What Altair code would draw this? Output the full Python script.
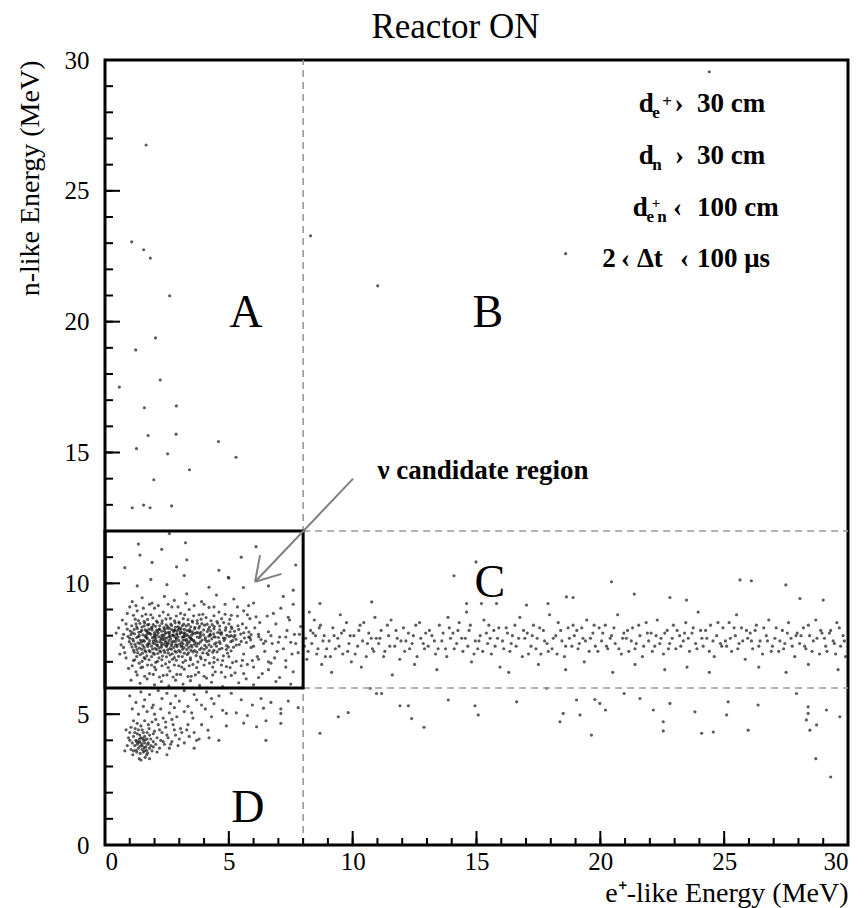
import altair as alt
import pandas as pd

# ---------------- data ----------------
# isolated events (regions A, B, C)
scatter_pts = [(1.66,26.75),(1.08,23.05),(1.56,22.75),(1.83,22.43),(2.61,20.99),(2.04,19.38),(1.24,18.92),
    (2.23,17.77),(0.58,17.5),(1.59,16.71),(2.88,16.78),(1.74,15.65),(2.87,15.7),(4.58,15.42),(1.27,15.15),
    (2.53,14.95),(5.29,14.82),(3.41,14.34),(1.97,13.96),(1.10,12.89),(1.56,12.99),(1.82,12.89),(2.69,12.96),
    (8.30,23.28),(11.01,21.37),(18.6,22.6),(24.4,29.55),(14.98,10.82),(14.09,10.29),
    (20.45,10.06),(25.64,10.13),(26.1,10.1),(27.49,9.94),(21.37,9.59),(22.81,9.46),(23.48,9.36),(28.06,9.42),
    (29.0,9.36),(18.9,9.46),(10.77,9.29),(14.6,9.23),(15.2,9.23),(15.81,9.23),(17.02,9.17),(17.89,9.23),
    (18.63,9.48),(8.68,9.23)]

# events below the 6 MeV cut for e+ energy > 8 MeV
low_band_pts = [(11.91,5.32),(12.25,5.32),(13.86,5.54),(14.94,5.32),(15.07,4.97),(9.42,4.90),(9.82,5.06),
    (12.88,4.50),(8.68,4.27),(10.96,5.79),(11.17,5.79),(12.38,4.83),(16.62,5.47),(18.37,4.71),(18.5,5.03),
    (17.83,5.99),(10.7,5.99),(19.04,5.54),(19.78,5.56),(19.98,5.41),(19.18,4.97),(20.21,5.16),(20.96,5.79),
    (21.6,5.6),(22.14,5.16),(22.54,4.71),(22.81,5.41),(23.82,5.09),(24.09,4.27),(24.56,4.32),(25.1,4.97),
    (25.16,5.47),(25.97,4.39),(26.37,5.35),(27.92,5.79),(28.39,5.28),(28.39,5.03),(28.32,4.78),(28.46,4.39),
    (28.73,4.59),(29.13,5.16),(29.67,4.90),(19.64,4.20),(22.54,4.36),(29.3,2.6),(28.7,3.3)]

# horizontal band of neutron-like events (n ~ 8 MeV), e+ energy 8-30 MeV
band_pts = [(8.1,7.9),(8.2,7.4),(8.3,8.2),(8.35,7.7),(8.5,8.0),(8.6,7.5),(8.7,8.4),(8.8,7.8),(8.9,7.2),(8.45,8.6),(8.15,7.1),(8.75,6.9),(8.25,8.9),
    (9.05,7.8),(9.2,8.3),(9.3,7.5),(9.4,7.9),(9.55,8.1),(9.6,7.3),(9.75,8.5),(9.85,7.7),(9.95,7.0),(9.15,6.6),(9.5,8.8),
    (10.05,8.0),(10.2,7.6),(10.3,8.4),(10.4,7.8),(10.55,7.2),(10.65,8.1),(10.8,7.5),(10.9,8.7),(10.95,7.9),(10.35,6.8),
    (11.05,7.7),(11.15,8.2),(11.3,7.4),(11.45,8.0),(11.55,8.6),(11.7,7.6),(11.8,7.9),(11.9,7.1),(11.6,6.5),
    (12.05,8.3),(12.15,7.8),(12.3,7.5),(12.45,8.0),(12.6,7.2),(12.7,8.5),(12.85,7.7),(12.95,8.1),(12.5,6.9),
    (13.05,7.6),(13.2,8.0),(13.35,7.3),(13.5,8.4),(13.6,7.8),(13.75,7.5),(13.85,8.7),(13.95,7.9),(13.4,6.7),
    (14.05,8.1),(14.2,7.7),(14.3,8.5),(14.45,7.4),(14.55,7.9),(14.7,8.2),(14.8,7.0),(14.95,7.8),(14.6,8.9),
    (15.05,7.5),(15.15,8.0),(15.3,8.6),(15.45,7.7),(15.6,7.3),(15.7,8.2),(15.85,7.9),(15.95,6.8),(15.5,8.4),
    (16.05,7.8),(16.2,8.3),(16.35,7.4),(16.45,8.0),(16.6,7.6),(16.75,8.7),(16.85,7.2),(16.95,7.9),(16.3,6.6),
    (17.05,8.1),(17.2,7.6),(17.3,8.4),(17.45,7.9),(17.6,7.3),(17.7,8.2),(17.85,7.7),(17.95,8.8),(17.5,6.9),
    (18.05,7.5),(18.2,8.0),(18.3,8.5),(18.45,7.8),(18.55,7.2),(18.7,8.3),(18.85,7.6),(18.95,8.0),(18.6,6.7),
    (19.05,8.2),(19.15,7.7),(19.3,7.9),(19.45,8.6),(19.55,7.4),(19.7,8.1),(19.8,7.6),(19.95,8.3),(19.35,7.0),
    (20.05,7.8),(20.2,8.4),(20.3,7.5),(20.45,8.0),(20.6,7.7),(20.7,8.8),(20.85,7.3),(20.95,8.1),(20.5,6.6),
    (21.05,7.9),(21.15,7.4),(21.3,8.3),(21.45,7.7),(21.6,8.0),(21.7,7.2),(21.85,8.5),(21.95,7.8),(21.4,6.9),
    (22.05,8.1),(22.2,7.6),(22.3,8.6),(22.45,7.9),(22.55,7.3),(22.7,8.2),(22.8,7.7),(22.95,8.4),(22.6,6.7),
    (23.05,7.5),(23.2,8.0),(23.35,7.8),(23.45,8.5),(23.6,7.4),(23.7,8.1),(23.85,7.7),(23.95,8.9),(23.5,6.8),
    (24.05,8.2),(24.15,7.6),(24.3,7.9),(24.45,8.4),(24.6,7.2),(24.7,8.0),(24.85,7.7),(24.95,8.3),(24.4,6.6),
    (25.05,7.8),(25.2,8.5),(25.3,7.4),(25.45,8.0),(25.6,7.7),(25.7,8.3),(25.85,7.1),(25.95,7.9),(25.5,8.8),
    (26.05,8.1),(26.15,7.5),(26.3,8.4),(26.45,7.8),(26.55,7.3),(26.7,8.0),(26.8,8.6),(26.95,7.6),(26.4,6.8),
    (27.05,7.9),(27.2,7.4),(27.35,8.2),(27.45,7.7),(27.6,8.5),(27.7,7.9),(27.85,7.2),(27.95,8.1),(27.5,6.6),
    (28.05,7.7),(28.2,8.3),(28.3,7.5),(28.45,8.0),(28.6,7.8),(28.7,8.6),(28.85,7.3),(28.95,8.1),(28.4,6.9),
    (29.05,7.9),(29.15,7.4),(29.3,8.2),(29.45,7.7),(29.55,8.5),(29.7,7.6),(29.8,8.0),(29.9,7.2),(29.6,6.7),
    (8.05,7.6),(8.4,8.1),(8.55,7.3),(8.65,8.3),(8.85,8.0),(8.95,7.5),
    (9.1,7.2),(9.25,8.0),(9.45,7.6),(9.65,8.2),(9.8,7.4),(9.9,8.0),
    (10.1,7.3),(10.25,8.2),(10.45,8.5),(10.6,7.7),(10.75,7.9),(10.85,7.4),
    (11.1,7.9),(11.25,7.2),(11.4,8.4),(11.5,7.6),(11.75,8.2),(11.95,7.8),
    (12.1,7.4),(12.25,8.1),(12.4,7.7),(12.55,8.4),(12.75,7.9),(12.9,7.5),
    (13.1,8.2),(13.3,7.8),(13.45,7.5),(13.65,8.1),(13.8,7.2),(13.9,8.3),
    (14.1,7.5),(14.25,8.2),(14.4,7.9),(14.65,7.6),(14.75,8.4),(14.9,7.3),
    (15.1,7.8),(15.25,7.4),(15.4,8.1),(15.55,7.9),(15.75,7.6),(15.9,8.3),
    (16.1,7.5),(16.25,8.1),(16.4,7.7),(16.55,8.4),(16.7,7.9),(16.9,8.2),
    (17.1,7.3),(17.25,8.0),(17.4,7.5),(17.55,8.3),(17.75,7.8),(17.9,7.4),
    (18.1,7.9),(18.25,7.3),(18.4,8.2),(18.6,7.6),(18.75,7.9),(18.9,8.4),
    (19.1,7.5),(19.25,8.3),(19.4,7.8),(19.6,7.9),(19.75,8.4),(19.9,7.4),
    (20.1,8.1),(20.25,7.6),(20.4,7.9),(20.55,8.3),(20.75,7.5),(20.9,7.9),
    (21.1,8.2),(21.25,7.8),(21.4,7.5),(21.55,8.4),(21.75,7.6),(21.9,8.1),
    (22.1,7.4),(22.25,8.0),(22.4,7.7),(22.6,8.1),(22.75,7.5),(22.9,7.9),
    (23.1,8.2),(23.25,7.6),(23.4,8.1),(23.55,7.9),(23.75,8.3),(23.9,7.5),
    (24.1,7.9),(24.25,8.2),(24.4,7.4),(24.55,7.8),(24.75,8.5),(24.9,7.6),
    (25.1,7.6),(25.25,7.9),(25.4,8.3),(25.55,7.5),(25.75,7.8),(25.9,8.2),
    (26.1,7.8),(26.25,8.2),(26.4,7.6),(26.6,8.3),(26.75,7.8),(26.9,7.4),
    (27.1,8.3),(27.25,7.8),(27.4,7.5),(27.55,8.1),(27.75,7.6),(27.9,8.0),
    (28.1,8.0),(28.25,7.6),(28.4,8.4),(28.55,7.4),(28.75,7.9),(28.9,8.2),
    (29.1,7.6),(29.25,8.1),(29.4,7.8),(29.5,7.3),(29.65,8.3),(29.85,7.8)]

# dense cluster inside the candidate box
core_pts = [(1.22,8.63),(1.58,8.55),(1.93,8.68),(2.31,8.57),(2.64,8.66),(2.98,8.52),(3.35,8.61),(3.72,8.58),(4.08,8.69),(4.52,8.54),(5.04,8.62),
    (1.41,8.47),(1.77,8.43),(2.12,8.51),(2.47,8.41),(2.83,8.49),(3.18,8.44),(3.54,8.52),(3.91,8.46),(4.33,8.42),(4.79,8.5),
    (1.08,8.38),(1.49,8.33),(1.72,8.41),(2.04,8.36),(2.38,8.31),(2.69,8.39),(2.94,8.34),(3.28,8.37),(3.63,8.32),(4.02,8.4),(4.41,8.35),(4.88,8.31),(5.37,8.38),
    (1.31,8.27),(1.62,8.22),(1.88,8.29),(2.19,8.24),(2.52,8.28),(2.81,8.21),(3.07,8.26),(3.42,8.23),(3.79,8.29),(4.18,8.25),(4.63,8.22),(5.12,8.27),
    (1.02,8.18),(1.37,8.13),(1.68,8.19),(2.01,8.12),(2.29,8.17),(2.61,8.14),(2.92,8.19),(3.21,8.11),(3.52,8.16),(3.87,8.13),(4.27,8.18),(4.71,8.12),(5.23,8.17),(5.81,8.14),
    (1.19,8.07),(1.53,8.03),(1.81,8.09),(2.08,8.02),(2.42,8.06),(2.73,8.01),(3.03,8.08),(3.31,8.04),(3.64,8.09),(3.98,8.03),(4.39,8.07),(4.92,8.02),(5.48,8.06),
    (0.93,7.97),(1.28,7.93),(1.63,7.99),(1.91,7.92),(2.18,7.96),(2.49,7.91),(2.79,7.98),(3.12,7.94),(3.38,7.97),(3.81,7.92),(4.19,7.98),(4.58,7.93),(5.02,7.97),(5.63,7.91),(6.21,7.96),
    (1.12,7.87),(1.43,7.83),(1.71,7.89),(2.03,7.82),(2.33,7.86),(2.58,7.81),(2.88,7.88),(3.23,7.84),(3.49,7.87),(3.92,7.83),(4.31,7.88),(4.81,7.82),(5.29,7.86),(5.88,7.84),
    (0.98,7.77),(1.33,7.73),(1.59,7.79),(1.94,7.72),(2.22,7.76),(2.51,7.71),(2.77,7.78),(3.09,7.74),(3.41,7.77),(3.69,7.72),(4.11,7.78),(4.49,7.73),(5.08,7.77),(5.71,7.74),(6.48,7.79),
    (1.21,7.67),(1.52,7.63),(1.79,7.69),(2.11,7.62),(2.39,7.66),(2.68,7.61),(3.01,7.68),(3.29,7.64),(3.61,7.67),(4.03,7.63),(4.42,7.68),(4.91,7.62),(5.42,7.66),
    (1.09,7.57),(1.39,7.53),(1.73,7.59),(2.02,7.52),(2.28,7.56),(2.62,7.51),(2.91,7.58),(3.19,7.54),(3.51,7.57),(3.89,7.53),(4.29,7.58),(4.72,7.52),(5.19,7.56),
    (1.29,7.47),(1.61,7.43),(1.92,7.49),(2.21,7.42),(2.53,7.46),(2.82,7.41),(3.13,7.48),(3.47,7.44),(3.83,7.47),(4.21,7.43),(4.62,7.48),(5.09,7.42),
    (1.18,7.37),(1.51,7.33),(1.82,7.39),(2.13,7.32),(2.41,7.36),(2.71,7.31),(3.04,7.38),(3.37,7.34),(3.71,7.37),(4.12,7.33),(4.53,7.38),
    (1.42,7.27),(1.69,7.23),(1.99,7.29),(2.32,7.22),(2.63,7.26),(2.97,7.21),(3.32,7.28),(3.68,7.24),(4.17,7.27),(4.78,7.23),
    (1.65,7.95),(1.85,8.05),(2.05,7.9),(2.15,8.1),(2.25,7.85),(2.35,8.0),(2.45,7.75),(2.55,8.12),(2.65,7.88),(2.75,8.03),(2.85,7.78),(2.95,7.95),(3.05,8.15),(3.15,7.83),(3.25,8.0),(3.35,7.7),(3.45,7.92),(3.55,8.08),
    (1.75,7.7),(1.95,7.8),(2.1,7.65),(2.3,7.72),(2.5,7.62),(2.7,7.68),(2.9,7.64),(3.1,7.6),(3.3,7.85),(3.6,7.78),
    (1.7,8.15),(1.9,8.22),(2.2,8.25),(2.4,8.18),(2.6,8.28),(2.8,8.2),(3.0,8.3),(3.2,8.24),(3.4,8.18),(3.7,8.12),
    (1.55,7.82),(2.0,7.98),(2.4,7.92),(2.62,7.97),(2.9,8.08),(3.18,7.97),(3.5,7.85),(3.85,7.98),(4.05,7.85),(4.25,8.05),(4.45,7.95),(4.65,8.1),(4.85,7.9),(5.1,8.0),
    (1.35,8.58),(1.72,8.62),(2.08,8.56),(2.46,8.64),(2.81,8.57),(3.16,8.65),(3.52,8.56),(3.88,8.63),(4.28,8.57),(4.71,8.65),
    (1.25,8.45),(1.6,8.48),(1.95,8.42),(2.3,8.47),(2.66,8.44),(3.0,8.48),(3.37,8.43),(3.73,8.47),(4.12,8.44),(4.55,8.48),(5.0,8.45),
    (1.28,8.34),(1.58,8.37),(1.9,8.33),(2.21,8.38),(2.53,8.35),(2.84,8.32),(3.12,8.38),(3.46,8.34),(3.82,8.36),(4.22,8.33),(4.63,8.37),(5.1,8.34),
    (1.18,8.24),(1.48,8.2),(1.78,8.25),(2.09,8.21),(2.4,8.26),(2.7,8.23),(2.99,8.25),(3.31,8.2),(3.62,8.26),(3.98,8.22),(4.4,8.26),(4.86,8.21),(5.4,8.24),
    (1.1,8.12),(1.45,8.15),(1.76,8.11),(2.12,8.16),(2.46,8.11),(2.77,8.16),(3.1,8.12),(3.43,8.15),(3.76,8.11),(4.13,8.16),(4.55,8.12),(5.05,8.15),(5.6,8.11),
    (1.05,8.04),(1.38,8.01),(1.7,8.05),(2.0,8.06),(2.3,8.02),(2.6,8.06),(2.9,8.03),(3.2,8.07),(3.5,8.02),(3.85,8.06),(4.25,8.02),(4.7,8.05),(5.25,8.01),(5.9,8.04),
    (1.0,7.9),(1.35,7.96),(1.68,7.93),(1.98,7.95),(2.28,7.92),(2.58,7.96),(2.86,7.91),(3.17,7.96),(3.45,7.9),(3.72,7.95),(4.05,7.92),(4.4,7.96),(4.78,7.91),(5.2,7.95),(5.85,7.93),
    (1.15,7.8),(1.48,7.76),(1.8,7.81),(2.1,7.77),(2.42,7.82),(2.7,7.76),(2.98,7.82),(3.3,7.78),(3.58,7.82),(3.85,7.76),(4.2,7.8),(4.62,7.77),(5.15,7.81),(5.5,7.78),
    (1.05,7.68),(1.4,7.7),(1.7,7.65),(2.0,7.69),(2.28,7.64),(2.56,7.7),(2.85,7.65),(3.15,7.69),(3.48,7.63),(3.78,7.69),(4.2,7.65),(4.65,7.7),(5.3,7.64),
    (1.25,7.58),(1.58,7.55),(1.88,7.6),(2.18,7.54),(2.48,7.59),(2.78,7.55),(3.08,7.6),(3.38,7.55),(3.7,7.6),(4.1,7.55),(4.5,7.6),(4.98,7.56),
    (1.15,7.45),(1.48,7.48),(1.78,7.43),(2.08,7.47),(2.38,7.44),(2.68,7.48),(2.98,7.43),(3.3,7.47),(3.62,7.43),(4.0,7.48),(4.4,7.44),(4.9,7.47),
    (1.32,7.35),(1.65,7.38),(1.95,7.33),(2.25,7.38),(2.55,7.34),(2.88,7.37),(3.2,7.33),(3.55,7.38),(3.95,7.34),(4.35,7.37),(4.95,7.33),
    (1.28,7.2),(1.58,7.16),(1.88,7.2),(2.18,7.15),(2.48,7.19),(2.8,7.16),(3.12,7.2),(3.45,7.15),(3.85,7.19),(4.4,7.16),(5.0,7.2)]

# sparser halo of the same cluster
halo_pts = [(0.85,7.15),(1.15,7.05),(1.38,6.95),(1.62,7.12),(1.88,6.88),(2.12,7.02),(2.45,6.92),(2.72,7.1),(2.98,6.85),(3.25,7.05),(3.55,6.9),(3.88,7.12),(4.22,6.95),(4.55,7.08),(4.9,6.82),(5.3,7.02),(5.75,6.9),(6.2,7.1),(6.7,6.95),(7.3,7.05),
    (0.95,6.75),(1.25,6.62),(1.52,6.8),(1.8,6.55),(2.05,6.7),(2.35,6.48),(2.62,6.65),(2.9,6.52),(3.2,6.72),(3.48,6.45),(3.78,6.6),(4.1,6.38),(4.45,6.62),(4.85,6.42),(5.25,6.58),(5.7,6.35),(6.35,6.55),(7.05,6.4),(7.6,6.62),
    (1.05,6.3),(1.42,6.18),(1.7,6.35),(2.0,6.12),(2.28,6.25),(2.58,6.08),(2.85,6.3),(3.15,6.15),(3.45,6.28),(3.82,6.1),(4.3,6.22),(4.75,6.05),(5.4,6.2),(6.0,6.12),(6.9,6.25),(7.5,6.15),
    (0.6,7.3),(0.7,7.9),(0.55,8.3),(0.75,7.55),(0.45,8.1),
    (0.9,8.85),(1.3,8.95),(1.65,8.82),(2.0,9.05),(2.35,8.9),(2.7,9.1),(3.05,8.85),(3.4,9.0),(3.8,8.8),(4.2,9.08),(4.6,8.9),(5.1,8.78),(5.6,8.95),(6.1,8.72),(6.8,8.85),(7.4,8.7),
    (1.1,9.3),(1.5,9.45),(1.9,9.25),(2.4,9.5),(2.8,9.35),(3.3,9.6),(3.9,9.3),(4.5,9.55),(5.2,9.4),(6.0,9.25),(7.2,9.5),
    (1.3,9.9),(1.85,10.15),(2.5,9.95),(3.2,10.3),(4.2,9.85),(5.0,10.2),(6.6,9.9),
    (0.8,10.6),(1.9,10.8),(3.3,10.9),(4.6,10.5),(5.5,11.0),(7.7,10.7),
    (1.35,11.5),(3.25,11.55),(6.1,11.4),(2.6,11.9),(1.41,11.08),(2.29,11.3),(2.89,10.63),(4.98,10.23),(5.59,9.84),(7.6,9.74),
    (5.9,7.55),(6.05,8.3),(6.3,7.85),(6.45,7.4),(6.6,8.15),(6.75,7.7),(6.9,8.45),(7.05,7.95),(7.2,7.5),(7.35,8.2),(7.5,7.75),(7.65,8.05),(7.8,7.35),(7.9,8.35),
    (6.15,7.2),(6.85,7.15),(7.45,8.6),(5.55,8.45),(5.85,8.65),(6.55,8.75),(7.1,9.05),(7.6,9.2),(5.95,7.05),(6.6,7.0),
    (0.7,8.6),(0.85,8.45),(0.65,7.65),(0.8,7.35),(0.9,8.25),(0.75,8.05),
    (1.0,9.1),(1.25,9.15),(1.55,9.05),(1.8,9.2),(2.15,9.15),(2.55,9.2),(2.95,9.1),(3.25,9.25),(3.6,9.15),(4.0,9.2),(4.4,9.1),(4.85,9.2),(5.35,9.1),(5.8,9.15),
    (1.15,8.78),(1.5,8.75),(1.85,8.8),(2.2,8.76),(2.55,8.8),(2.88,8.75),(3.22,8.8),(3.58,8.76),(3.95,8.82),(4.4,8.76),(4.85,8.82),(5.35,8.75),(5.75,8.8),
    (1.2,7.08),(1.5,7.02),(1.78,7.08),(2.05,6.98),(2.3,7.08),(2.6,7.0),(2.88,7.06),(3.15,6.98),(3.45,7.08),(3.75,7.0),(4.05,7.07),(4.4,6.98),(4.75,7.05),(5.15,6.97),(5.55,7.06),
    (1.1,6.85),(1.45,6.78),(1.72,6.88),(2.0,6.8),(2.3,6.85),(2.55,6.78),(2.8,6.88),(3.1,6.8),(3.4,6.85),(3.7,6.78),(4.0,6.88),(4.35,6.8),(4.7,6.88),(5.05,6.78),(5.5,6.85),(6.0,6.8),
    (1.3,6.5),(1.6,6.45),(1.95,6.52),(2.2,6.42),(2.5,6.5),(2.75,6.42),(3.05,6.52),(3.35,6.44),(3.65,6.5),(4.0,6.45),(4.35,6.5),(4.7,6.6),(5.1,6.48),(5.6,6.55),(6.2,6.4),(6.6,6.7),(7.3,6.8),
    (5.6,7.3),(5.8,7.95),(6.0,7.6),(6.2,8.05),(6.4,7.7),(6.7,8.0),(7.0,7.75),(7.3,7.95),(7.7,7.7),(7.85,8.05),(5.7,8.3),(6.25,8.5),(6.95,7.4),(7.55,7.3)]

# low-energy cluster (region D)
lower_pts = [(1.3,3.85),(1.4,3.95),(1.5,3.8),(1.55,4.0),(1.6,3.9),(1.45,4.1),(1.35,3.7),(1.65,3.75),(1.7,4.05),(1.25,4.0),(1.5,3.65),(1.75,3.9),(1.4,4.2),(1.6,4.15),(1.2,3.8),(1.85,3.8),(1.55,3.55),(1.3,4.25),(1.8,4.2),(1.95,3.95),
    (1.1,3.9),(1.15,4.15),(1.05,3.65),(1.42,3.5),(1.68,3.45),(1.9,3.6),(2.05,3.85),(2.1,4.1),(2.0,4.35),(1.78,4.45),(1.5,4.4),(1.22,4.45),(0.95,4.1),(0.9,3.8),(1.62,3.35),(1.38,3.3),(2.2,3.7),(2.25,4.0),
    (1.35,3.92),(1.48,3.88),(1.58,3.72),(1.62,4.02),(1.42,3.78),(1.28,3.95),(1.72,3.85),(1.52,4.08),(1.38,4.05),(1.68,3.62),
    (2.4,3.85),(2.55,4.1),(2.3,4.3),(2.7,3.95),(2.85,4.2),(2.6,3.7),(3.0,4.05),(3.2,3.9),(3.4,4.15),(2.45,4.5),(2.15,4.6),(1.9,4.7),(1.6,4.75),(1.3,4.65),(1.05,4.5),(0.85,4.4),
    (2.75,4.6),(3.05,4.45),(3.35,4.6),(3.6,4.3),(3.8,4.05),(2.35,4.85),(2.0,5.0),(1.7,5.1),(1.35,5.0),(1.1,5.2),(2.6,5.05),(2.9,4.9),(3.2,5.1),(3.55,4.85),(3.9,4.6),
    (1.25,5.45),(1.6,5.55),(1.95,5.35),(2.3,5.6),(2.65,5.4),(3.0,5.5),(3.35,5.3),(3.7,5.55),(4.05,5.2),(4.4,5.4),(4.75,5.15),(1.0,5.7),(1.45,5.85),(1.8,5.75),(2.15,5.9),(2.5,5.8),(2.85,5.7),(3.2,5.9),(3.6,5.75),(4.1,5.85),(4.6,5.7),(5.1,5.8),
    (5.5,5.55),(5.95,5.35),(6.3,5.6),(6.7,5.45),(7.1,5.2),(5.3,5.05),(5.75,4.95),(6.5,4.75),(7.4,5.5),(7.8,5.25),(4.3,4.9),(4.9,4.55),
    (1.12,3.45),(1.8,3.3),(2.5,3.45),(0.8,3.6),(1.0,4.3),(3.6,3.7),(4.2,4.1),(4.6,4.0),
    (6.5,4.0),(5.6,4.66),(6.12,4.52),(7.1,4.65),(7.1,5.03),(6.4,5.23),(4.9,5.03),(4.16,4.39),(3.7,4.0),(1.45,3.25),
    (1.15,3.6),(1.28,3.55),(1.72,3.52),(1.85,4.05),(1.95,4.25),(2.1,3.55),(2.35,3.95),(2.5,4.2),(2.65,3.85),(2.2,4.4),(1.55,4.3),(1.35,4.4),
    (1.0,4.0),(1.2,4.3),(2.8,4.4),(3.1,4.3),(2.95,3.8),(3.3,4.4),(2.45,4.7),(2.7,4.8),(1.75,4.6),(1.45,4.55),(1.15,4.75),(2.05,4.8),
    (2.25,5.2),(1.9,5.25),(1.55,5.3),(2.8,5.25),(3.5,5.05),(3.9,5.35),(4.3,5.6),(1.6,3.6),(1.8,3.7),(1.25,3.62),(1.7,4.3),(1.95,3.75)]

# cut lines, candidate box and arrow (MeV)
cut_segments = [(8, 0, 8, 30), (8, 12, 30, 12), (8, 6, 30, 6)]
box = [(0, 6, 8, 12)]
arrow_segments = [(10.02, 14.0, 6.06, 10.06), (6.06, 10.06, 6.26, 11.08), (6.06, 10.06, 7.13, 10.36)]

region_labels = ["A", "B", "C", "D"]
region_x = [5.69, 15.46, 15.54, 5.77]
region_y = [20.33, 20.33, 10.01, 1.41]

axis_ticks = [0, 5, 10, 15, 20, 25, 30]
minor_ticks = list(range(0, 31))

# cut-condition annotation pieces: (text, x, y, font size)
cut_main = [("d", 21.55, 28.31, 27), ("d", 21.55, 26.33, 27), ("d", 21.31, 24.34, 27)]
cut_sub = [("e", 22.1, 27.97, 17), ("n", 22.1, 25.99, 17), ("e", 21.86, 24.0, 17), ("n", 22.3, 24.0, 17)]
cut_sup = [("+", 22.5, 28.4, 17), ("+", 22.08, 24.52, 15)]
cut_rel = [("\u203a", 23.18, 28.31, 27), ("\u203a", 23.2, 26.33, 27), ("\u2039", 23.12, 24.34, 27),
           ("2", 20.35, 22.39, 27), ("\u2039", 21.02, 22.39, 27), ("\u0394t", 22.0, 22.39, 27), ("\u2039", 23.4, 22.39, 27)]
cut_val = [("30 cm", 23.9, 28.31, 27), ("30 cm", 23.9, 26.33, 27), ("100 cm", 23.9, 24.34, 27), ("100 \u03bcs", 23.9, 22.39, 27)]
cand_text = [("\u03bd candidate region", 11.0, 14.29, 27)]

# ---------------- chart ----------------
W, H = 743, 785
FONT = "Liberation Serif"
xs = alt.Scale(domain=[0, 30], nice=False, zero=False)
ys = alt.Scale(domain=[0, 30], nice=False, zero=False)

pts = pd.DataFrame(scatter_pts + low_band_pts + band_pts + core_pts + halo_pts + lower_pts, columns=["x", "y"])

points = alt.Chart(pts).mark_circle(size=10, color="#1c1c1c", opacity=0.72).encode(
    x=alt.X("x:Q", scale=xs, axis=alt.Axis(
        values=axis_ticks, title="e\u207a-like Energy (MeV)", labelPadding=4,
        titleX=W, titleY=56, titleAlign="right", titleBaseline="alphabetic", titleAnchor="end")),
    y=alt.Y("y:Q", scale=ys, axis=alt.Axis(
        values=axis_ticks, title="n-like Energy (MeV)", labelPadding=16,
        titleX=-75, titleY=0, titleAlign="right", titleBaseline="middle", titleAngle=-90, titleAnchor="end")),
)

def seg_chart(segs, **mark):
    df = pd.DataFrame(segs, columns=["x", "y", "x2", "y2"])
    return alt.Chart(df).mark_rule(**mark).encode(
        x=alt.X("x:Q", scale=xs), y=alt.Y("y:Q", scale=ys), x2="x2:Q", y2="y2:Q")

cuts = seg_chart(cut_segments, color="#9a9a9a", strokeWidth=1.6, strokeDash=[7, 5])
arrow = seg_chart(arrow_segments, color="#808080", strokeWidth=2)

box_df = pd.DataFrame(box, columns=["x", "y", "x2", "y2"])
box_chart = alt.Chart(box_df).mark_rect(fillOpacity=0, stroke="black", strokeWidth=3).encode(
    x=alt.X("x:Q", scale=xs), y=alt.Y("y:Q", scale=ys), x2="x2:Q", y2="y2:Q")

xt_minor = alt.Chart(pd.DataFrame({"x": minor_ticks})).mark_rule(color="black", strokeWidth=2).encode(
    x=alt.X("x:Q", scale=xs), y=alt.value(H), y2=alt.value(H - 7))
xt_major = alt.Chart(pd.DataFrame({"x": axis_ticks})).mark_rule(color="black", strokeWidth=2).encode(
    x=alt.X("x:Q", scale=xs), y=alt.value(H), y2=alt.value(H - 14))
yt_minor = alt.Chart(pd.DataFrame({"y": minor_ticks})).mark_rule(color="black", strokeWidth=2).encode(
    y=alt.Y("y:Q", scale=ys), x=alt.value(0), x2=alt.value(8))
yt_major = alt.Chart(pd.DataFrame({"y": axis_ticks})).mark_rule(color="black", strokeWidth=2).encode(
    y=alt.Y("y:Q", scale=ys), x=alt.value(0), x2=alt.value(15))

def text_chart(items, align="left", weight="bold"):
    df = pd.DataFrame(items, columns=["t", "x", "y", "fs"])
    return alt.Chart(df).mark_text(font=FONT, fontWeight=weight, align=align, baseline="middle", color="black").encode(
        x=alt.X("x:Q", scale=xs), y=alt.Y("y:Q", scale=ys),
        text="t:N", size=alt.Size("fs:Q", scale=None, legend=None))

region_df = pd.DataFrame({"t": region_labels, "x": region_x, "y": region_y})
regions = alt.Chart(region_df).mark_text(font=FONT, fontSize=46, color="black", align="center", baseline="middle").encode(
    x=alt.X("x:Q", scale=xs), y=alt.Y("y:Q", scale=ys), text="t:N")

chart = alt.layer(
    points, cuts, box_chart, arrow, regions,
    text_chart(cut_main), text_chart(cut_sub), text_chart(cut_sup), text_chart(cut_rel, align="center"),
    text_chart(cut_val), text_chart(cand_text),
    xt_minor, xt_major, yt_minor, yt_major,
).properties(
    width=W, height=H,
    title=alt.TitleParams("Reactor ON", font=FONT, fontSize=35, fontWeight="normal", color="black",
                          anchor="middle", dx=-21, offset=3),
    padding={"left": 105, "top": 60, "right": 19, "bottom": 63},
    autosize=alt.AutoSizeParams(type="none"),
    background="white",
).configure_view(
    stroke="black", strokeWidth=3
).configure_axis(
    grid=False, ticks=False, domain=False,
    labelFont=FONT, labelFontSize=25, labelColor="black",
    titleFont=FONT, titleFontSize=28, titleFontWeight="normal", titleColor="black",
)

chart.save("out.html", embed_options={"renderer": "svg", "actions": False})
